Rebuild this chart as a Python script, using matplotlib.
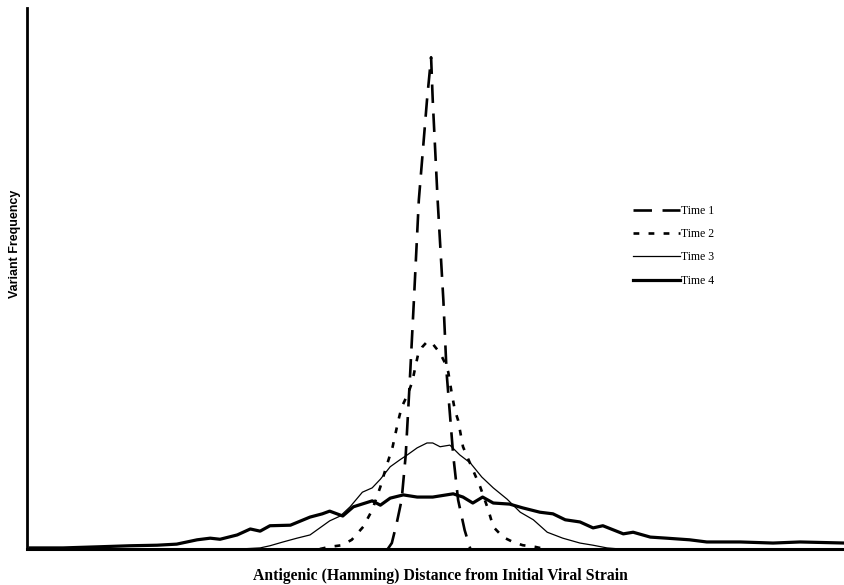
import matplotlib
matplotlib.use("Agg")
import matplotlib.pyplot as plt

# distance (0-100 across the axis) and frequency (0-100 up the axis)
t1_x = [44.1, 44.6, 45.2, 45.8, 46.3, 46.8, 47.3, 47.9, 48.9, 49.4, 49.6, 50.2, 50.9, 51.3,
        52.1, 52.7, 53.5, 54.2]
t1_y = [0, 1.1, 4.8, 9.1, 17.4, 31.2, 46.0, 64.5, 83.0, 90.9, 83.0, 64.5, 46.0, 32.5,
        17.4, 9.1, 3.5, 0]

t2_x = [35.8, 37.0, 38.5, 39.7, 41.1, 42.2, 43.2, 43.8, 44.7, 45.4, 45.8, 46.6, 47.1, 47.4,
        47.8, 48.3, 48.9, 49.5, 50.5, 51.1, 51.5, 51.9, 52.3, 52.7, 53.3, 54.4, 55.4, 56.4,
        57.0, 58.2, 59.4, 60.6, 62.1, 63.3]
t2_y = [0, 0.4, 0.7, 1.7, 4.1, 7.2, 11.5, 14.6, 18.9, 23.8, 26.2, 28.8, 30.9, 33.1,
        35.9, 37.3, 38.3, 38.1, 36.2, 34.4, 32.7, 29.0, 25.7, 23.8, 18.9, 15.0, 11.5, 7.2,
        4.1, 2.2, 1.3, 0.7, 0.4, 0]

t3_x = [26.0, 28.5, 29.7, 31.3, 33.0, 34.6, 35.8, 37.0, 38.3, 39.5, 41.0, 42.2, 43.2, 44.4,
        45.6, 46.5, 47.7, 48.9, 49.6, 50.5, 51.7, 52.9, 54.2, 55.6, 57.0, 58.7, 60.3, 61.9,
        63.6, 65.5, 67.6, 69.2, 70.9, 72.5]
t3_y = [0, 0.2, 0.6, 1.3, 2.0, 2.6, 3.9, 5.2, 6.1, 7.8, 10.5, 11.3, 12.9, 15.2,
        16.5, 17.4, 18.7, 19.6, 19.6, 18.9, 19.2, 17.4, 15.9, 13.3, 11.3, 9.2, 6.8, 5.4,
        3.1, 2.0, 1.1, 0.7, 0.2, 0]

t4_x = [0.4, 4.4, 8.6, 12.6, 15.9, 18.3, 20.8, 22.4, 23.6, 25.7, 27.3, 28.5, 29.7, 32.2,
        34.6, 36.1, 37.0, 38.6, 39.9, 42.2, 43.2, 44.4, 46.0, 47.7, 49.6, 52.1, 53.3, 54.5,
        55.7, 57.0, 59.0, 60.6, 62.7, 64.3, 65.8, 67.6, 69.2, 70.4, 72.9, 74.1, 76.2, 78.2,
        81.0, 83.1, 85.1, 87.2, 91.2, 94.5, 100]
t4_y = [0.2, 0.2, 0.4, 0.6, 0.7, 0.9, 1.7, 2.0, 1.8, 2.6, 3.7, 3.3, 4.3, 4.4,
        5.9, 6.5, 7.0, 6.1, 7.8, 8.9, 8.1, 9.4, 10.0, 9.6, 9.6, 10.2, 9.6, 8.5,
        9.6, 8.5, 8.3, 7.6, 6.8, 6.5, 5.4, 5.0, 3.9, 4.3, 2.8, 3.1, 2.2, 2.0,
        1.7, 1.3, 1.3, 1.3, 1.1, 1.3, 1.1]

labels = ["Time 1", "Time 2", "Time 3", "Time 4"]

fig = plt.figure(figsize=(8.45, 5.85), dpi=100)
ax = fig.add_axes([27/845, 1-549/585, 818/845, 541/585])

ax.plot(t1_x, t1_y, color="black", lw=1.9, dashes=(7, 4), label=labels[0])
ax.plot(t2_x, t2_y, color="black", lw=1.9, dashes=(2.2, 3.5), label=labels[1])
ax.plot(t3_x, t3_y, color="black", lw=0.9, label=labels[2])
ax.plot(t4_x, t4_y, color="black", lw=2.3, label=labels[3])

ax.set_xlim(0, 100)
ax.set_ylim(0, 100)
ax.set_xticks([])
ax.set_yticks([])
for s in ["top", "right"]:
    ax.spines[s].set_visible(False)
ax.spines["left"].set_linewidth(2)
ax.spines["bottom"].set_linewidth(2.2)

leg = ax.legend(loc="upper left", bbox_to_anchor=(633/845, 1-205/585),
                bbox_transform=fig.transFigure, frameon=False, handlelength=4.0,
                handletextpad=0.1, labelspacing=0.95, borderpad=0, borderaxespad=0,
                prop={"family": "Liberation Serif", "size": 8.5})

fig.text(440/845, 1-576/585, "Antigenic (Hamming) Distance from Initial Viral Strain",
         ha="center", va="center", family="Liberation Serif", weight="bold", fontsize=11.3)
fig.text(15/845, 1-244/585, "Variant Frequency", rotation=90, ha="center", va="center",
         family="Liberation Sans", weight="bold", fontsize=9)

fig.savefig("out.png", dpi=100)
